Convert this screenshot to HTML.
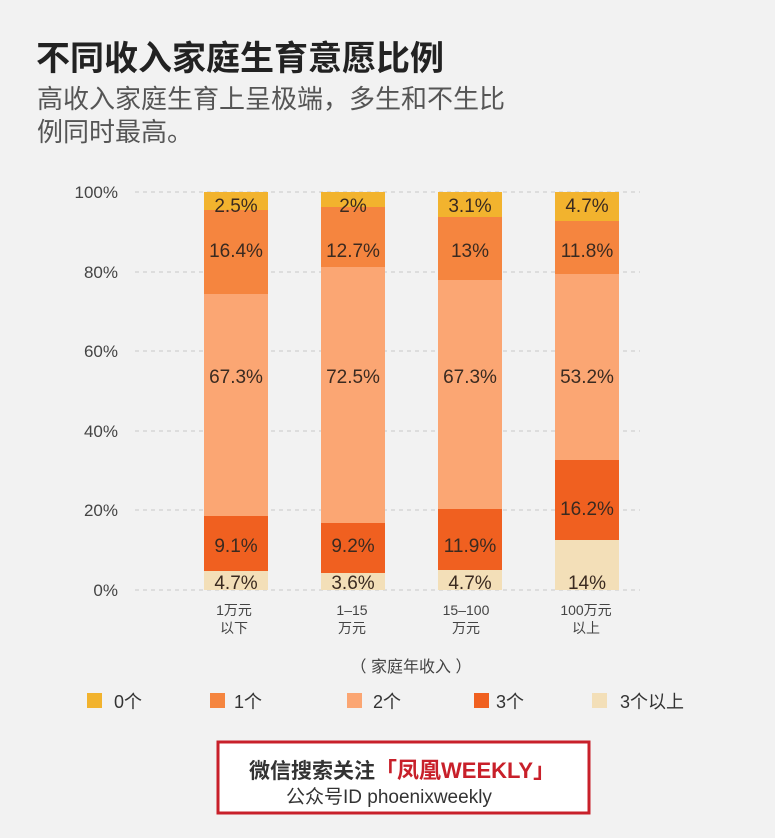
<!DOCTYPE html>
<html><head><meta charset="utf-8"><style>
body{margin:0;background:#f2f2f2;}
svg{display:block;font-family:"Liberation Sans","Noto Sans CJK SC",sans-serif;}
</style></head><body>
<svg width="775" height="838" viewBox="0 0 775 838" xmlns="http://www.w3.org/2000/svg">
<rect width="775" height="838" fill="#f2f2f2"/>
<text x="36" y="70" font-size="34" font-weight="bold" fill="#222">不同收入家庭生育意愿比例</text>
<text x="37" y="108" font-size="26" fill="#555">高收入家庭生育上呈极端，多生和不生比</text>
<text x="37" y="141" font-size="26" fill="#555">例同时最高。</text>
<g stroke="#c8c8c8" stroke-dasharray="4,4" stroke-width="1">
<line x1="135" y1="192" x2="640" y2="192"/><line x1="135" y1="272" x2="640" y2="272"/>
<line x1="135" y1="351" x2="640" y2="351"/><line x1="135" y1="431" x2="640" y2="431"/>
<line x1="135" y1="510" x2="640" y2="510"/><line x1="135" y1="590" x2="640" y2="590"/>
</g>
<g font-size="17" fill="#444" text-anchor="end">
<text x="118" y="198">100%</text><text x="118" y="278">80%</text><text x="118" y="357">60%</text>
<text x="118" y="437">40%</text><text x="118" y="516">20%</text><text x="118" y="596">0%</text>
</g>
<rect x="204" y="192" width="64" height="18" fill="#f2b32e"/>
<rect x="204" y="210" width="64" height="84" fill="#f5853f"/>
<rect x="204" y="294" width="64" height="222" fill="#fba673"/>
<rect x="204" y="516" width="64" height="55" fill="#f06020"/>
<rect x="204" y="571" width="64" height="19" fill="#f3dfb8"/>
<rect x="321" y="192" width="64" height="15" fill="#f2b32e"/>
<rect x="321" y="207" width="64" height="60" fill="#f5853f"/>
<rect x="321" y="267" width="64" height="256" fill="#fba673"/>
<rect x="321" y="523" width="64" height="50" fill="#f06020"/>
<rect x="321" y="573" width="64" height="17" fill="#f3dfb8"/>
<rect x="438" y="192" width="64" height="25" fill="#f2b32e"/>
<rect x="438" y="217" width="64" height="63" fill="#f5853f"/>
<rect x="438" y="280" width="64" height="229" fill="#fba673"/>
<rect x="438" y="509" width="64" height="61" fill="#f06020"/>
<rect x="438" y="570" width="64" height="20" fill="#f3dfb8"/>
<rect x="555" y="192" width="64" height="29" fill="#f2b32e"/>
<rect x="555" y="221" width="64" height="53" fill="#f5853f"/>
<rect x="555" y="274" width="64" height="186" fill="#fba673"/>
<rect x="555" y="460" width="64" height="80" fill="#f06020"/>
<rect x="555" y="540" width="64" height="50" fill="#f3dfb8"/>
<g font-size="19" fill="#3a2a20" text-anchor="middle">
<text x="236" y="212">2.5%</text><text x="236" y="257">16.4%</text><text x="236" y="383">67.3%</text><text x="236" y="552">9.1%</text><text x="236" y="589">4.7%</text>
<text x="353" y="212">2%</text><text x="353" y="257">12.7%</text><text x="353" y="383">72.5%</text><text x="353" y="552">9.2%</text><text x="353" y="589">3.6%</text>
<text x="470" y="212">3.1%</text><text x="470" y="257">13%</text><text x="470" y="383">67.3%</text><text x="470" y="552">11.9%</text><text x="470" y="589">4.7%</text>
<text x="587" y="212">4.7%</text><text x="587" y="257">11.8%</text><text x="587" y="383">53.2%</text><text x="587" y="515">16.2%</text><text x="587" y="589">14%</text>
</g>
<g font-size="14" fill="#444" text-anchor="middle">
<text x="234" y="615">1万元</text><text x="234" y="633">以下</text>
<text x="352" y="615">1–15</text><text x="352" y="633">万元</text>
<text x="466" y="615">15–100</text><text x="466" y="633">万元</text>
<text x="586" y="615">100万元</text><text x="586" y="633">以上</text>
<text x="411" y="672" font-size="16">（ 家庭年收入 ）</text>
</g>
<g font-size="18" fill="#333">
<rect x="87" y="693" width="15" height="15" fill="#f2b32e"/><text x="114" y="708">0个</text>
<rect x="210" y="693" width="15" height="15" fill="#f5853f"/><text x="234" y="708">1个</text>
<rect x="347" y="693" width="15" height="15" fill="#fba673"/><text x="373" y="708">2个</text>
<rect x="474" y="693" width="15" height="15" fill="#f06020"/><text x="496" y="708">3个</text>
<rect x="592" y="693" width="15" height="15" fill="#f3dfb8"/><text x="620" y="708">3个以上</text>
</g>
<rect x="218" y="742" width="371" height="71" fill="#fff" stroke="#c8202a" stroke-width="3"/>
<text x="249" y="778" font-size="21" font-weight="bold" fill="#333">微信搜索关注</text>
<text x="375" y="778" font-size="22" font-weight="bold" fill="#c8202a">「凤凰WEEKLY」</text>
<text x="286" y="803" font-size="19" fill="#333">公众号ID  phoenixweekly</text>
</svg>
</body></html>
